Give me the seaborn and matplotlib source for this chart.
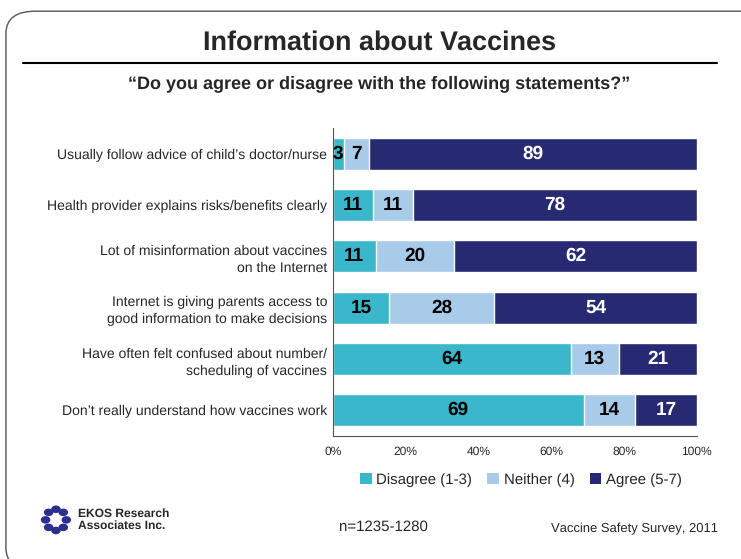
import numpy as np
import pandas as pd
import matplotlib.pyplot as plt
import seaborn as sns
from matplotlib.patches import FancyBboxPatch, Patch, Circle
from matplotlib.lines import Line2D

# Survey data (percent)
statements = [
    "Usually follow advice of child\u2019s doctor/nurse",
    "Health provider explains risks/benefits clearly",
    "Lot of misinformation about vaccines\non the Internet",
    "Internet is giving parents access to\ngood information to make decisions",
    "Have often felt confused about number/\nscheduling of vaccines",
    "Don\u2019t really understand how vaccines work",
]
disagree = [3, 11, 11, 15, 64, 69]
neither = [7, 11, 20, 28, 13, 14]
agree = [89, 78, 62, 54, 21, 17]

series_names = ["Disagree (1-3)", "Neither (4)", "Agree (5-7)"]
colors = ["#3AB7CB", "#A8CBEA", "#272A72"]
text_colors = ["black", "black", "white"]

df = pd.DataFrame({"statement": statements, "Disagree": disagree,
                   "Neither": neither, "Agree": agree})
total = df[["Disagree", "Neither", "Agree"]].sum(axis=1)
df["c1"] = df["Disagree"] / total
df["c2"] = (df["Disagree"] + df["Neither"]) / total
df["c3"] = (df["Disagree"] + df["Neither"] + df["Agree"]) / total

sns.set_style("white")
plt.rcParams["font.family"] = ["Liberation Sans", "DejaVu Sans"]
plt.rcParams["text.hinting"] = "no_hinting"
plt.rcParams["text.hinting_factor"] = 1

fig = plt.figure(figsize=(7.41, 5.59), dpi=100)
ax = fig.add_axes([0.449, 0.22, 0.4915, 0.551])

# stacked bars drawn as overlapping cumulative bars
for col, c in zip(["c3", "c2", "c1"], colors[::-1]):
    sns.barplot(data=df, x=col, y="statement", orient="h", color=c,
                width=0.62, ax=ax, saturation=1)

# value labels
for i, row in df.iterrows():
    starts = [0, row["c1"], row["c2"]]
    ends = [row["c1"], row["c2"], row["c3"]]
    vals = [row["Disagree"], row["Neither"], row["Agree"]]
    for s, e, v, tc in zip(starts, ends, vals, text_colors):
        ax.text((s + e) / 2, i, str(v), ha="center", va="center",
                fontsize=14, fontweight="bold", color=tc)

ax.set_xlim(0, 1)
ax.set_ylim(5.5, -0.5)
ax.set_xlabel("")
ax.set_ylabel("")
ax.set_xticks(np.arange(0, 1.01, 0.2))
ax.set_xticklabels([f"{int(t)}%" for t in np.arange(0, 101, 20)], fontsize=8.5)
ax.tick_params(axis="x", direction="out", length=3, width=0.8, color="#555555", pad=4)
ax.tick_params(axis="y", length=0, labelsize=10.4, pad=4)
for lab in ax.get_yticklabels():
    lab.set_multialignment("right")
    lab.set_linespacing(1.4)
sns.despine(ax=ax, top=True, right=True)
ax.spines["left"].set_color("#555555")
ax.spines["bottom"].set_color("#555555")
ax.spines["left"].set_linewidth(0.8)
ax.spines["bottom"].set_linewidth(0.8)

# legend
handles = [Patch(facecolor=c, edgecolor="none") for c in colors]
fig.legend(handles, series_names, loc="center", bbox_to_anchor=(0.703, 0.142),
           ncol=3, frameon=False, fontsize=11, handlelength=0.75,
           handleheight=0.75, handletextpad=0.3, columnspacing=1.0)

# page frame
frame = FancyBboxPatch((0.008, -0.02), 1.05, 1.0,
                       boxstyle="round,pad=0,rounding_size=0.04",
                       transform=fig.transFigure, fill=False,
                       edgecolor="#555555", linewidth=1.0)
fig.patches.append(frame)

# titles
fig.text(0.512, 0.923, "Information about Vaccines", ha="center", va="center",
         fontsize=19.5, fontweight="bold")
fig.add_artist(Line2D([0.031, 0.968], [0.887, 0.887], color="black",
                      linewidth=1.5, transform=fig.transFigure))
fig.text(0.512, 0.851, "\u201cDo you agree or disagree with the following statements?\u201d",
         ha="center", va="center", fontsize=13.2, fontweight="bold")

# footer
fig.text(0.105, 0.071, "EKOS Research\nAssociates Inc.", ha="left", va="center",
         fontsize=8.3, fontweight="bold", linespacing=1.1)
for k in range(8):
    a = 2 * np.pi * k / 8
    fig.add_artist(Circle((0.0755 + 0.014 * np.cos(a), 0.07 + 0.019 * np.sin(a)),
                          0.0055, transform=fig.transFigure, color="#2B2F8F"))
fig.text(0.458, 0.058, "n=1235-1280", ha="left", va="center", fontsize=10.6)
fig.text(0.969, 0.054, "Vaccine Safety Survey, 2011", ha="right", va="center",
         fontsize=9.1)

fig.savefig("out.png", dpi=100)
